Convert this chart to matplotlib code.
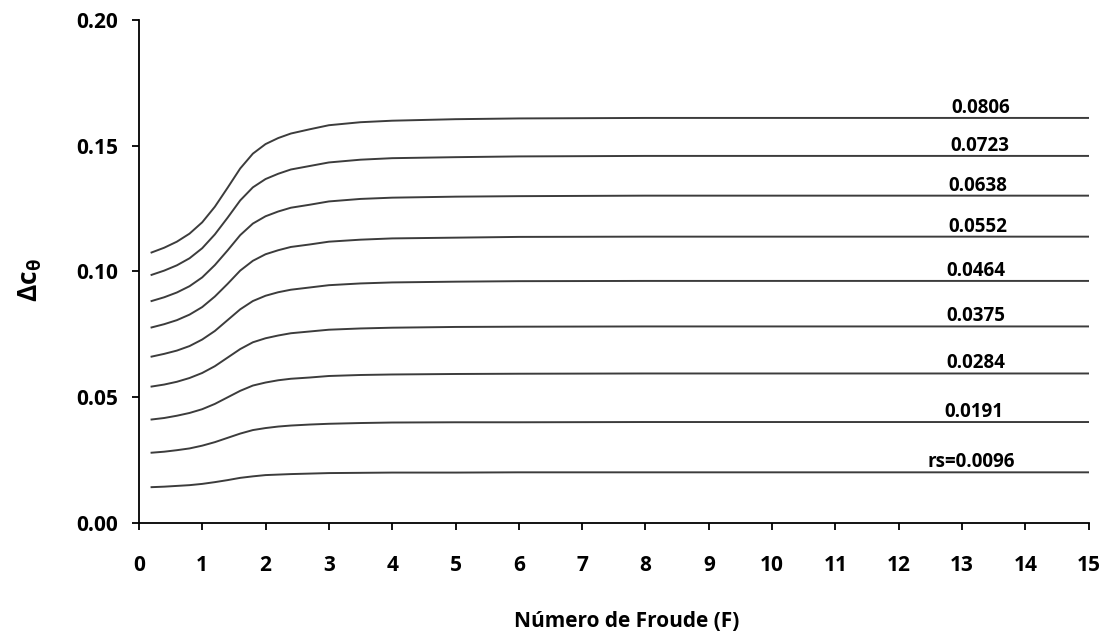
import matplotlib
matplotlib.use('Agg')
from matplotlib import pyplot as plt

# Número de Froude
froude = [0.2, 0.4, 0.6, 0.8, 1.0, 1.2, 1.4, 1.6, 1.8, 2.0, 2.2, 2.4, 2.7, 3.0, 3.5, 4.0, 5.0, 6.0, 8.0, 10.0, 12.0, 15.0]

# rótulos das curvas (rs)
rs_labels = ['0.0806', '0.0723', '0.0638', '0.0552', '0.0464', '0.0375', '0.0284', '0.0191', 'rs=0.0096']

# Delta C_theta para cada rs
dc_0806 = [0.1075, 0.1094, 0.1118, 0.1150, 0.1195, 0.1257, 0.1332, 0.1409, 0.1468, 0.1506, 0.1530, 0.1548, 0.1565, 0.1581, 0.1593, 0.1599, 0.1605, 0.1608, 0.1610, 0.1610, 0.1610, 0.1610]
dc_0723 = [0.0986, 0.1003, 0.1024, 0.1052, 0.1092, 0.1147, 0.1213, 0.1282, 0.1334, 0.1367, 0.1388, 0.1405, 0.1419, 0.1433, 0.1444, 0.1450, 0.1454, 0.1457, 0.1459, 0.1459, 0.1459, 0.1459]
dc_0638 = [0.0882, 0.0897, 0.0916, 0.0941, 0.0976, 0.1025, 0.1083, 0.1144, 0.1190, 0.1219, 0.1238, 0.1253, 0.1265, 0.1278, 0.1288, 0.1293, 0.1297, 0.1299, 0.1301, 0.1301, 0.1301, 0.1301]
dc_0552 = [0.0777, 0.0790, 0.0806, 0.0828, 0.0858, 0.0900, 0.0950, 0.1003, 0.1042, 0.1068, 0.1084, 0.1097, 0.1107, 0.1118, 0.1126, 0.1131, 0.1134, 0.1137, 0.1138, 0.1138, 0.1138, 0.1138]
dc_0464 = [0.0661, 0.0672, 0.0685, 0.0703, 0.0729, 0.0763, 0.0806, 0.0849, 0.0882, 0.0903, 0.0917, 0.0927, 0.0936, 0.0945, 0.0952, 0.0956, 0.0959, 0.0961, 0.0962, 0.0962, 0.0962, 0.0962]
dc_0375 = [0.0542, 0.0550, 0.0561, 0.0576, 0.0596, 0.0623, 0.0657, 0.0691, 0.0718, 0.0734, 0.0745, 0.0754, 0.0761, 0.0768, 0.0773, 0.0776, 0.0779, 0.0780, 0.0781, 0.0781, 0.0781, 0.0781]
dc_0284 = [0.0411, 0.0417, 0.0426, 0.0437, 0.0452, 0.0473, 0.0499, 0.0525, 0.0546, 0.0558, 0.0567, 0.0573, 0.0578, 0.0584, 0.0588, 0.0590, 0.0592, 0.0593, 0.0594, 0.0594, 0.0594, 0.0594]
dc_0191 = [0.0279, 0.0283, 0.0289, 0.0296, 0.0307, 0.0321, 0.0338, 0.0355, 0.0369, 0.0377, 0.0383, 0.0387, 0.0391, 0.0394, 0.0397, 0.0399, 0.0400, 0.0400, 0.0401, 0.0401, 0.0401, 0.0401]
dc_0096 = [0.0142, 0.0144, 0.0147, 0.0150, 0.0155, 0.0162, 0.0170, 0.0179, 0.0185, 0.0190, 0.0192, 0.0194, 0.0196, 0.0198, 0.0199, 0.0200, 0.0200, 0.0201, 0.0201, 0.0201, 0.0201, 0.0201]

curves = [dc_0806, dc_0723, dc_0638, dc_0552, dc_0464, dc_0375, dc_0284, dc_0191, dc_0096]
# posição x do centro de cada rótulo
label_x = [13.3, 13.28, 13.25, 13.25, 13.22, 13.22, 13.22, 13.18, 13.15]

plt.rcParams['font.family'] = ['Open Sans', 'DejaVu Sans']
plt.rcParams['font.weight'] = 'bold'
plt.rcParams['mathtext.fontset'] = 'custom'
plt.rcParams['mathtext.rm'] = 'Open Sans:bold'
plt.rcParams['mathtext.it'] = 'Open Sans:bold'

fig = plt.figure(figsize=(11.11, 6.40), dpi=100)
ax = fig.add_axes([0.125, 0.183, 0.855, 0.786])

for y, lab, lx in zip(curves, rs_labels, label_x):
    ax.plot(froude, y, color='#3c3c3c', lw=1.4)
    ax.annotate(lab, xy=(lx, y[-1]), xytext=(0, 0), textcoords='offset points',
                ha='center', va='bottom', fontsize=13.5, fontweight='bold')

ax.set_xlim(0, 15)
ax.set_ylim(0, 0.20)
ax.set_xticks(range(0, 16))
ax.set_yticks([0.0, 0.05, 0.10, 0.15, 0.20])
ax.set_yticklabels(['0.00', '0.05', '0.10', '0.15', '0.20'])

for s in ['top', 'right']:
    ax.spines[s].set_visible(False)
for s in ['left', 'bottom']:
    ax.spines[s].set_linewidth(1.3)
ax.tick_params(direction='out', length=5, width=1.3, labelsize=15)
ax.tick_params(axis='x', pad=18)
ax.tick_params(axis='y', pad=10)

ax.set_xlabel('Número de Froude (F)', fontsize=15, fontweight='bold', va='center')
ax.xaxis.set_label_coords(0.514, -0.197)
ax.set_ylabel('Δc$_{θ}$', fontsize=19, fontweight='bold', va='center')
ax.yaxis.set_label_coords(-0.114, 0.483)

fig.savefig('out.png', dpi=100)
